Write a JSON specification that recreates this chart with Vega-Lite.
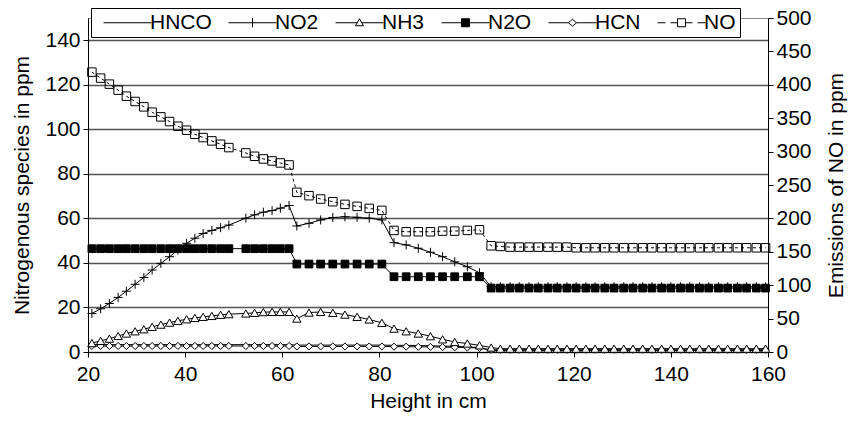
{
"$schema":"https://vega.github.io/schema/vega-lite/v6.json",
"width":680,"height":334,
"autosize":{"type":"none"},
"padding":{"left":88,"top":18,"right":82,"bottom":71},
"background":"white",
"datasets":{
"HNCO":[{"x":20.8,"v":3.3},{"x":22.6,"v":3.3},{"x":24.4,"v":3.3},{"x":26.2,"v":3.3},{"x":27.9,"v":3.3},{"x":29.7,"v":3.3},{"x":31.5,"v":3.3},{"x":33.2,"v":3.3},{"x":35.0,"v":3.3},{"x":36.8,"v":3.3},{"x":38.5,"v":3.3},{"x":40.3,"v":3.3},{"x":42.0,"v":3.3},{"x":43.7,"v":3.3},{"x":45.5,"v":3.3},{"x":47.3,"v":3.3},{"x":49.0,"v":3.3},{"x":52.5,"v":3.3},{"x":54.3,"v":3.3},{"x":56.1,"v":3.3},{"x":57.9,"v":3.3},{"x":59.6,"v":3.3},{"x":61.4,"v":3.3},
{"x":63.0,"v":3.1},{"x":65.5,"v":3.1},{"x":67.9,"v":3.1},{"x":70.4,"v":3.1},{"x":72.9,"v":3.1},{"x":75.4,"v":3.1},{"x":77.9,"v":3.1},{"x":80.5,"v":3.1},
{"x":83.0,"v":3.0},{"x":85.5,"v":3.0},{"x":88.0,"v":2.9},{"x":90.5,"v":2.8},{"x":93.0,"v":2.7},{"x":95.5,"v":2.5},{"x":98.1,"v":2.3},{"x":100.6,"v":2.0},
{"x":103.0,"v":0.7},{"x":104.9,"v":0.7},{"x":106.9,"v":0.7},{"x":108.8,"v":0.7},{"x":110.8,"v":0.7},{"x":112.7,"v":0.7},{"x":114.7,"v":0.7},{"x":116.6,"v":0.7},{"x":118.6,"v":0.7},{"x":120.5,"v":0.7},{"x":122.5,"v":0.7},{"x":124.4,"v":0.7},{"x":126.4,"v":0.7},{"x":128.3,"v":0.7},{"x":130.3,"v":0.7},{"x":132.2,"v":0.7},{"x":134.2,"v":0.7},{"x":136.1,"v":0.7},{"x":138.1,"v":0.7},{"x":140.0,"v":0.7},{"x":142.0,"v":0.7},{"x":143.9,"v":0.7},{"x":145.9,"v":0.7},{"x":147.8,"v":0.7},{"x":149.8,"v":0.7},{"x":151.7,"v":0.7},{"x":153.7,"v":0.7},{"x":155.6,"v":0.7},{"x":157.6,"v":0.7},{"x":159.5,"v":0.7}],
"NO2":[{"x":20.8,"v":17.3},{"x":22.6,"v":19.4},{"x":24.4,"v":21.8},{"x":26.2,"v":24.5},{"x":27.9,"v":27.3},{"x":29.7,"v":30.4},{"x":31.5,"v":33.5},{"x":33.2,"v":36.8},{"x":35.0,"v":39.8},{"x":36.8,"v":42.8},{"x":38.5,"v":45.8},{"x":40.3,"v":48.8},{"x":42.0,"v":51.1},{"x":43.7,"v":53.2},{"x":45.5,"v":54.6},{"x":47.3,"v":55.8},{"x":49.0,"v":57.0},{"x":52.5,"v":60.1},{"x":54.3,"v":61.6},{"x":56.1,"v":62.8},{"x":57.9,"v":63.5},{"x":59.6,"v":64.6},{"x":61.4,"v":65.8},
{"x":63.0,"v":56.6},{"x":65.5,"v":57.8},{"x":67.9,"v":59.3},{"x":70.4,"v":60.4},{"x":72.9,"v":60.7},{"x":75.4,"v":60.5},{"x":77.9,"v":60.1},{"x":80.5,"v":59.3},
{"x":83.0,"v":49.1},{"x":85.5,"v":48.1},{"x":88.0,"v":46.6},{"x":90.5,"v":44.8},{"x":93.0,"v":42.8},{"x":95.5,"v":40.5},{"x":98.1,"v":38.3},{"x":100.6,"v":35.6},
{"x":103.0,"v":29.3},{"x":104.9,"v":29.3},{"x":106.9,"v":29.3},{"x":108.8,"v":29.3},{"x":110.8,"v":29.3},{"x":112.7,"v":29.3},{"x":114.7,"v":29.3},{"x":116.6,"v":29.3},{"x":118.6,"v":29.3},{"x":120.5,"v":29.3},{"x":122.5,"v":29.3},{"x":124.4,"v":29.3},{"x":126.4,"v":29.3},{"x":128.3,"v":29.3},{"x":130.3,"v":29.3},{"x":132.2,"v":29.3},{"x":134.2,"v":29.3},{"x":136.1,"v":29.3},{"x":138.1,"v":29.3},{"x":140.0,"v":29.3},{"x":142.0,"v":29.3},{"x":143.9,"v":29.3},{"x":145.9,"v":29.3},{"x":147.8,"v":29.3},{"x":149.8,"v":29.3},{"x":151.7,"v":29.3},{"x":153.7,"v":29.3},{"x":155.6,"v":29.3},{"x":157.6,"v":29.3},{"x":159.5,"v":29.3}],
"NH3":[{"x":20.8,"v":4.0},{"x":22.6,"v":5.0},{"x":24.4,"v":6.0},{"x":26.2,"v":7.2},{"x":27.9,"v":8.3},{"x":29.7,"v":9.3},{"x":31.5,"v":10.2},{"x":33.2,"v":11.3},{"x":35.0,"v":12.3},{"x":36.8,"v":13.2},{"x":38.5,"v":14.0},{"x":40.3,"v":14.7},{"x":42.0,"v":15.3},{"x":43.7,"v":15.8},{"x":45.5,"v":16.2},{"x":47.3,"v":16.7},{"x":49.0,"v":17.0},{"x":52.5,"v":17.3},{"x":54.3,"v":17.6},{"x":56.1,"v":17.9},{"x":57.9,"v":18.0},{"x":59.6,"v":18.0},{"x":61.4,"v":18.0},
{"x":63.0,"v":15.0},{"x":65.5,"v":17.7},{"x":67.9,"v":18.0},{"x":70.4,"v":17.6},{"x":72.9,"v":16.8},{"x":75.4,"v":15.8},{"x":77.9,"v":14.6},{"x":80.5,"v":13.1},
{"x":83.0,"v":10.5},{"x":85.5,"v":9.3},{"x":88.0,"v":8.3},{"x":90.5,"v":7.1},{"x":93.0,"v":5.7},{"x":95.5,"v":4.5},{"x":98.1,"v":3.8},{"x":100.6,"v":3.0},
{"x":103.0,"v":2.0},{"x":104.9,"v":1.5},{"x":106.9,"v":1.5},{"x":108.8,"v":1.5},{"x":110.8,"v":1.5},{"x":112.7,"v":1.5},{"x":114.7,"v":1.5},{"x":116.6,"v":1.5},{"x":118.6,"v":1.5},{"x":120.5,"v":1.5},{"x":122.5,"v":1.5},{"x":124.4,"v":1.5},{"x":126.4,"v":1.5},{"x":128.3,"v":1.5},{"x":130.3,"v":1.5},{"x":132.2,"v":1.5},{"x":134.2,"v":1.5},{"x":136.1,"v":1.5},{"x":138.1,"v":1.5},{"x":140.0,"v":1.5},{"x":142.0,"v":1.5},{"x":143.9,"v":1.5},{"x":145.9,"v":1.5},{"x":147.8,"v":1.5},{"x":149.8,"v":1.5},{"x":151.7,"v":1.5},{"x":153.7,"v":1.5},{"x":155.6,"v":1.5},{"x":157.6,"v":1.5},{"x":159.5,"v":1.5}],
"N2O":[{"x":20.8,"v":46.4},{"x":22.6,"v":46.4},{"x":24.4,"v":46.4},{"x":26.2,"v":46.4},{"x":27.9,"v":46.4},{"x":29.7,"v":46.4},{"x":31.5,"v":46.4},{"x":33.2,"v":46.4},{"x":35.0,"v":46.4},{"x":36.8,"v":46.4},{"x":38.5,"v":46.4},{"x":40.3,"v":46.4},{"x":42.0,"v":46.4},{"x":43.7,"v":46.4},{"x":45.5,"v":46.4},{"x":47.3,"v":46.4},{"x":49.0,"v":46.4},{"x":52.5,"v":46.4},{"x":54.3,"v":46.4},{"x":56.1,"v":46.4},{"x":57.9,"v":46.4},{"x":59.6,"v":46.4},{"x":61.4,"v":46.4},
{"x":63.0,"v":39.5},{"x":65.5,"v":39.5},{"x":67.9,"v":39.5},{"x":70.4,"v":39.5},{"x":72.9,"v":39.5},{"x":75.4,"v":39.5},{"x":77.9,"v":39.5},{"x":80.5,"v":39.5},
{"x":83.0,"v":33.8},{"x":85.5,"v":33.8},{"x":88.0,"v":33.8},{"x":90.5,"v":33.8},{"x":93.0,"v":33.8},{"x":95.5,"v":33.8},{"x":98.1,"v":33.8},{"x":100.6,"v":33.8},
{"x":103.0,"v":28.7},{"x":104.9,"v":28.7},{"x":106.9,"v":28.7},{"x":108.8,"v":28.7},{"x":110.8,"v":28.7},{"x":112.7,"v":28.7},{"x":114.7,"v":28.7},{"x":116.6,"v":28.7},{"x":118.6,"v":28.7},{"x":120.5,"v":28.7},{"x":122.5,"v":28.7},{"x":124.4,"v":28.7},{"x":126.4,"v":28.7},{"x":128.3,"v":28.7},{"x":130.3,"v":28.7},{"x":132.2,"v":28.7},{"x":134.2,"v":28.7},{"x":136.1,"v":28.7},{"x":138.1,"v":28.7},{"x":140.0,"v":28.7},{"x":142.0,"v":28.7},{"x":143.9,"v":28.7},{"x":145.9,"v":28.7},{"x":147.8,"v":28.7},{"x":149.8,"v":28.7},{"x":151.7,"v":28.7},{"x":153.7,"v":28.7},{"x":155.6,"v":28.7},{"x":157.6,"v":28.7},{"x":159.5,"v":28.7}],
"HCN":[{"x":20.8,"v":2.7},{"x":22.6,"v":2.7},{"x":24.4,"v":2.7},{"x":26.2,"v":2.7},{"x":27.9,"v":2.7},{"x":29.7,"v":2.7},{"x":31.5,"v":2.7},{"x":33.2,"v":2.7},{"x":35.0,"v":2.7},{"x":36.8,"v":2.7},{"x":38.5,"v":2.7},{"x":40.3,"v":2.7},{"x":42.0,"v":2.7},{"x":43.7,"v":2.7},{"x":45.5,"v":2.7},{"x":47.3,"v":2.7},{"x":49.0,"v":2.7},{"x":52.5,"v":2.7},{"x":54.3,"v":2.7},{"x":56.1,"v":2.7},{"x":57.9,"v":2.7},{"x":59.6,"v":2.7},{"x":61.4,"v":2.7},
{"x":63.0,"v":2.5},{"x":65.5,"v":2.5},{"x":67.9,"v":2.5},{"x":70.4,"v":2.5},{"x":72.9,"v":2.5},{"x":75.4,"v":2.5},{"x":77.9,"v":2.5},{"x":80.5,"v":2.5},
{"x":83.0,"v":2.4},{"x":85.5,"v":2.4},{"x":88.0,"v":2.3},{"x":90.5,"v":2.3},{"x":93.0,"v":2.2},{"x":95.5,"v":2.1},{"x":98.1,"v":2.0},{"x":100.6,"v":1.8},
{"x":103.0,"v":1.0},{"x":104.9,"v":1.0},{"x":106.9,"v":1.0},{"x":108.8,"v":1.0},{"x":110.8,"v":1.0},{"x":112.7,"v":1.0},{"x":114.7,"v":1.0},{"x":116.6,"v":1.0},{"x":118.6,"v":1.0},{"x":120.5,"v":1.0},{"x":122.5,"v":1.0},{"x":124.4,"v":1.0},{"x":126.4,"v":1.0},{"x":128.3,"v":1.0},{"x":130.3,"v":1.0},{"x":132.2,"v":1.0},{"x":134.2,"v":1.0},{"x":136.1,"v":1.0},{"x":138.1,"v":1.0},{"x":140.0,"v":1.0},{"x":142.0,"v":1.0},{"x":143.9,"v":1.0},{"x":145.9,"v":1.0},{"x":147.8,"v":1.0},{"x":149.8,"v":1.0},{"x":151.7,"v":1.0},{"x":153.7,"v":1.0},{"x":155.6,"v":1.0},{"x":157.6,"v":1.0},{"x":159.5,"v":1.0}],
"NO":[{"x":20.8,"v":419},{"x":22.6,"v":410},{"x":24.4,"v":401},{"x":26.2,"v":392},{"x":27.9,"v":383},{"x":29.7,"v":375},{"x":31.5,"v":367},{"x":33.2,"v":359},{"x":35.0,"v":352},{"x":36.8,"v":345},{"x":38.5,"v":338},{"x":40.3,"v":332},{"x":42.0,"v":326},{"x":43.7,"v":321},{"x":45.5,"v":316},{"x":47.3,"v":311},{"x":49.0,"v":306},{"x":52.5,"v":298},{"x":54.3,"v":293},{"x":56.1,"v":289},{"x":57.9,"v":286},{"x":59.6,"v":283},{"x":61.4,"v":280},
{"x":63.0,"v":239},{"x":65.5,"v":234},{"x":67.9,"v":229},{"x":70.4,"v":225},{"x":72.9,"v":221},{"x":75.4,"v":218},{"x":77.9,"v":215},{"x":80.5,"v":212},
{"x":83.0,"v":182},{"x":85.5,"v":180},{"x":88.0,"v":180},{"x":90.5,"v":180},{"x":93.0,"v":181},{"x":95.5,"v":181},{"x":98.1,"v":182},{"x":100.6,"v":183},
{"x":103.0,"v":159},{"x":104.9,"v":158},{"x":106.9,"v":157},{"x":108.8,"v":157},{"x":110.8,"v":157},{"x":112.7,"v":157},{"x":114.7,"v":157},{"x":116.6,"v":157},{"x":118.6,"v":157},{"x":120.5,"v":156},{"x":122.5,"v":156},{"x":124.4,"v":156},{"x":126.4,"v":156},{"x":128.3,"v":156},{"x":130.3,"v":156},{"x":132.2,"v":156},{"x":134.2,"v":156},{"x":136.1,"v":156},{"x":138.1,"v":156},{"x":140.0,"v":156},{"x":142.0,"v":156},{"x":143.9,"v":156},{"x":145.9,"v":156},{"x":147.8,"v":156},{"x":149.8,"v":156},{"x":151.7,"v":156},{"x":153.7,"v":156},{"x":155.6,"v":156},{"x":157.6,"v":156},{"x":159.5,"v":156}]
},
"encoding":{
 "x":{"field":"x","type":"quantitative","scale":{"domain":[20,160],"nice":false,"zero":false},
  "axis":{"values":[20,40,60,80,100,120,140,160],"title":"Height in cm","grid":false,"titlePadding":6,"labelPadding":6}}
},
"layer":[
 {
  "encoding":{"y":{"field":"v","type":"quantitative","scale":{"domain":[0,150],"nice":false},
   "axis":{"values":[0,20,40,60,80,100,120,140],"title":"Nitrogenous species in ppm","grid":true,"gridColor":"#555","gridWidth":1.3,"titlePadding":12}}},
  "layer":[
   {"data":{"name":"HNCO"},"mark":{"type":"line","stroke":"black","strokeWidth":1}},
   {"data":{"name":"NO2"},"mark":{"type":"line","stroke":"black","strokeWidth":1}},
   {"data":{"name":"NH3"},"mark":{"type":"line","stroke":"black","strokeWidth":1}},
   {"data":{"name":"N2O"},"mark":{"type":"line","stroke":"black","strokeWidth":1}},
   {"data":{"name":"HCN"},"mark":{"type":"line","stroke":"black","strokeWidth":1}},
   {"data":{"name":"HCN"},"mark":{"type":"point","shape":"diamond","filled":true,"fill":"white","stroke":"black","strokeWidth":1,"size":50,"opacity":1}},
   {"data":{"name":"NH3"},"mark":{"type":"point","shape":"triangle-up","filled":true,"fill":"white","stroke":"black","strokeWidth":1,"size":70,"opacity":1}},
   {"data":{"name":"N2O"},"mark":{"type":"point","shape":"square","filled":true,"fill":"black","stroke":"black","strokeWidth":1,"size":60,"opacity":1}},
   {"data":{"name":"NO2"},"mark":{"type":"point","shape":"M-1,0L1,0M0,-1L0,1","filled":false,"fill":"transparent","stroke":"black","strokeWidth":1,"size":81,"opacity":1}},
   {"data":{"name":"HCN"},"mark":{"type":"point","filled":true,"strokeWidth":1,"size":4,"opacity":0},
    "encoding":{
     "shape":{"datum":"HCN","scale":{"domain":["HNCO","NO2","NH3","N2O","HCN","NO"],"range":["M-24,0L24,0","M-24,0L24,0M0,-4.5L0,4.5","M-24,0L-2.3,0M2.3,0L24,0M0,-4L4,3L-4,3Z","M-24,0L24,0M-4,-4L4,-4L4,4L-4,4Z","M-24,0L-4,0M4,0L24,0M-4,0L0,-3.5L4,0L0,3.5Z","M-24,0L-16,0M-11,0L-4,0M4,0L11,0M16,0L24,0M-4,-4L4,-4L4,4L-4,4Z"]},
      "legend":{"orient":"none","legendX":3,"legendY":-10,"direction":"horizontal","title":null,"labelFont":"Liberation Sans","labelFontSize":21,"labelColor":"black","symbolSize":4,"symbolOffset":22,"labelOffset":12,"columnPadding":8,"padding":4,"strokeColor":"black","fillColor":"white","symbolStrokeWidth":1,"symbolOpacity":1}},
     "fill":{"datum":"HCN","scale":{"domain":["HNCO","NO2","NH3","N2O","HCN","NO"],"range":["white","white","white","black","white","white"]},
      "legend":{"orient":"none","legendX":3,"legendY":-10,"direction":"horizontal","title":null,"labelFont":"Liberation Sans","labelFontSize":21,"labelColor":"black","symbolSize":4,"symbolOffset":22,"labelOffset":12,"columnPadding":8,"padding":4,"strokeColor":"black","fillColor":"white","symbolStrokeWidth":1,"symbolOpacity":1}},
     "stroke":{"datum":"HCN","scale":{"domain":["HNCO","NO2","NH3","N2O","HCN","NO"],"range":["black","black","black","black","black","black"]},
      "legend":{"orient":"none","legendX":3,"legendY":-10,"direction":"horizontal","title":null,"labelFont":"Liberation Sans","labelFontSize":21,"labelColor":"black","symbolSize":4,"symbolOffset":22,"labelOffset":12,"columnPadding":8,"padding":4,"strokeColor":"black","fillColor":"white","symbolStrokeWidth":1,"symbolOpacity":1}}
    }}
  ]
 },
 {
  "encoding":{"y":{"field":"v","type":"quantitative","scale":{"domain":[0,500],"nice":false},
   "axis":{"orient":"right","values":[0,50,100,150,200,250,300,350,400,450,500],"title":"Emissions of NO in ppm","grid":false,"titleAngle":-90,"titleBaseline":"top","titlePadding":14}}},
  "layer":[
   {"data":{"name":"NO"},"mark":{"type":"line","stroke":"black","strokeWidth":1,"strokeDash":[3,3]}},
   {"data":{"name":"NO"},"mark":{"type":"point","shape":"square","filled":false,"fill":"transparent","stroke":"black","strokeWidth":1,"size":72,"opacity":1}}
  ]
 }
],
"resolve":{"scale":{"y":"independent"},"axis":{"y":"independent"}},
"config":{
 "font":"Liberation Sans",
 "view":{"stroke":"#888","strokeWidth":1},
 "axis":{"labelFont":"Liberation Sans","titleFont":"Liberation Sans","labelFontSize":21,"titleFontSize":21,"titleFontWeight":"normal","labelColor":"black","titleColor":"black","domainColor":"black","domainWidth":1,"tickColor":"black","tickSize":5,"labelPadding":3,"labelFlush":false,"labelOverlap":false}
}
}
